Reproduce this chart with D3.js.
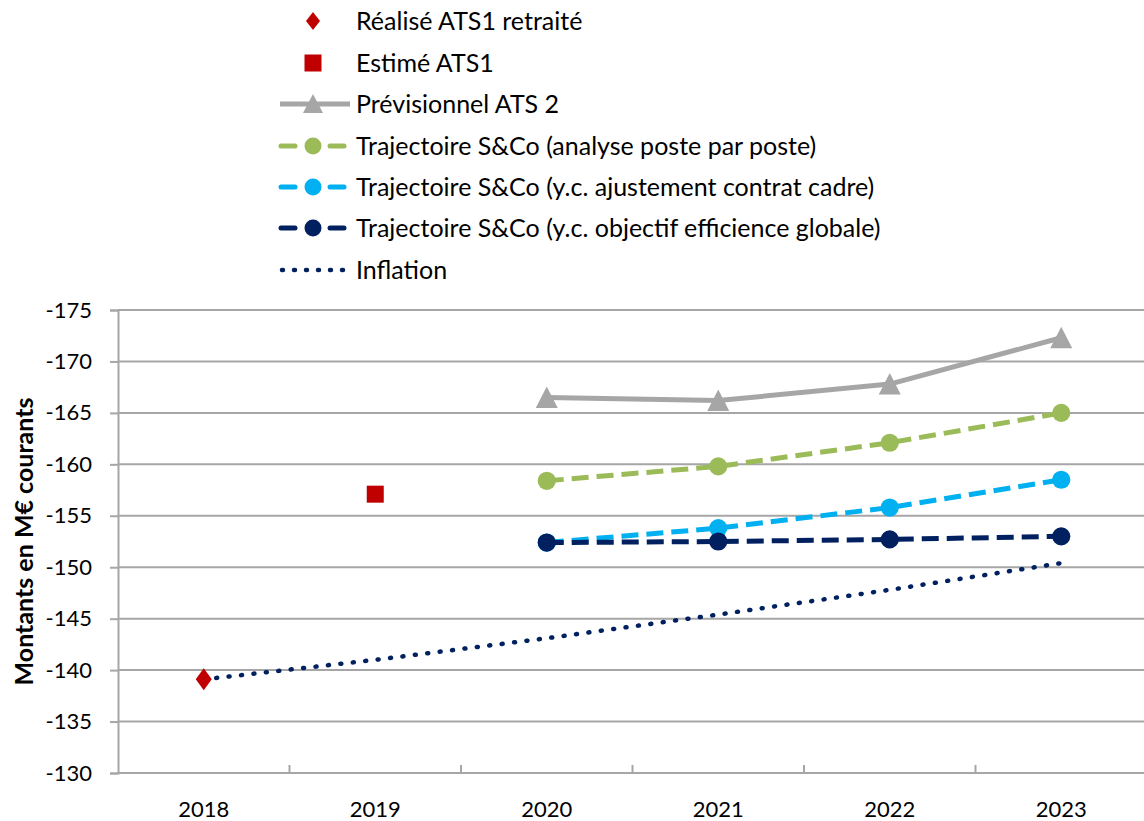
<!DOCTYPE html>
<html><head><meta charset="utf-8">
<script src="https://cdn.jsdelivr.net/npm/d3@7"></script>
<style>body{margin:0;background:#fff;} svg{display:block;font-family:Lato,"Open Sans",sans-serif;}</style>
</head><body>
<svg id="chart" width="1144" height="821"></svg>
<script>
const years = ["2018","2019","2020","2021","2022","2023"];
const yTicks = [-175,-170,-165,-160,-155,-150,-145,-140,-135,-130];
const realise = [-139.1, null, null, null, null, null];
const estime = [null, -157.1, null, null, null, null];
const ats2 = [null, null, -166.5, -166.2, -167.8, -172.3];
const trajPoste = [null, null, -158.4, -159.8, -162.1, -165.0];
const trajCadre = [null, null, -152.4, -153.8, -155.8, -158.5];
const trajGlobale = [null, null, -152.4, -152.5, -152.7, -153.0];
const inflation = [-139.1, -141.0, -143.1, -145.4, -147.8, -150.4];
const legendLabels = ["Réalisé ATS1 retraité","Estimé ATS1","Prévisionnel ATS 2",
  "Trajectoire S&Co (analyse poste par poste)","Trajectoire S&Co (y.c. ajustement contrat cadre)",
  "Trajectoire S&Co (y.c. objectif efficience globale)","Inflation"];

const svg = d3.select("#chart");
const L = 118, R = 1147, T = 310, B = 773;
const x = d3.scaleBand().domain(years).range([L, R]).padding(0);
const y = d3.scaleLinear().domain([-130, -175]).range([B, T]);
const cx = d => x(d) + x.bandwidth()/2;
const gridCol = "#a6a6a6";

svg.append("g").selectAll("line").data(yTicks.filter(t => t !== -130)).join("line")
  .attr("x1", L).attr("x2", 1144).attr("y1", d => y(d)).attr("y2", d => y(d))
  .attr("stroke", gridCol).attr("stroke-width", 2);

const yAxis = svg.append("g").attr("transform", `translate(${L},0)`)
  .call(d3.axisLeft(y).tickValues(yTicks).tickSize(8).tickPadding(18).tickFormat(d => String(d)));
yAxis.select(".domain").attr("stroke", gridCol).attr("stroke-width", 2);
yAxis.selectAll(".tick line").attr("stroke", gridCol).attr("stroke-width", 2);
yAxis.selectAll("text").attr("font-size", 22).attr("fill", "#000").attr("font-family","Lato");

svg.append("line").attr("x1", L).attr("x2", 1144).attr("y1", B).attr("y2", B)
  .attr("stroke", gridCol).attr("stroke-width", 2);
svg.append("g").selectAll("line").data(years.slice(1)).join("line")
  .attr("x1", d => x(d)).attr("x2", d => x(d)).attr("y1", B).attr("y2", B - 8)
  .attr("stroke", gridCol).attr("stroke-width", 2);
svg.append("g").selectAll("text").data(years).join("text")
  .attr("x", d => cx(d)).attr("y", 817).attr("text-anchor", "middle")
  .attr("font-size", 22).attr("fill", "#000").text(d => d);

svg.append("text").attr("transform", `translate(33,${(T+B)/2}) rotate(-90)`)
  .attr("text-anchor", "middle").attr("font-size", 25).attr("font-weight", "bold")
  .text("Montants en M€ courants");

function series(vals, color, width, dash, cap) {
  const pts = years.map((yr, i) => ({yr, v: vals[i]})).filter(p => p.v !== null);
  const line = d3.line().x(p => cx(p.yr)).y(p => y(p.v));
  svg.append("path").attr("d", line(pts)).attr("fill", "none").attr("stroke", color)
    .attr("stroke-width", width).attr("stroke-dasharray", dash || null)
    .attr("stroke-linecap", cap || "butt").attr("stroke-linejoin", "round");
  return pts;
}
function markers(pts, type, color, size) {
  svg.append("g").selectAll("path").data(pts).join("path")
    .attr("transform", p => `translate(${cx(p.yr)},${y(p.v)})`)
    .attr("d", d3.symbol().type(type).size(size)).attr("fill", color);
}
const diamondTall = { draw(ctx) { const h = 11, w = 8; ctx.moveTo(0,-h); ctx.lineTo(w,0); ctx.lineTo(0,h); ctx.lineTo(-w,0); ctx.closePath(); } };
const tri = { draw(ctx) { ctx.moveTo(0,-11); ctx.lineTo(11,10.5); ctx.lineTo(-11,10.5); ctx.closePath(); } };

series(inflation, "#002060", 4.5, "1 11.5", "round");
const pA = series(ats2, "#a6a6a6", 5);
markers(pA, tri, "#a6a6a6", 1);
const pG = series(trajPoste, "#9bbb59", 5, "17 8");
markers(pG, d3.symbolCircle, "#9bbb59", 260);
const pC = series(trajCadre, "#00b0f0", 5, "17 8");
markers(pC, d3.symbolCircle, "#00b0f0", 260);
const pN = series(trajGlobale, "#002060", 5, "17 8");
markers(pN, d3.symbolCircle, "#002060", 260);
markers(years.map((yr,i)=>({yr,v:realise[i]})).filter(p=>p.v!==null), diamondTall, "#c00000", 1);
svg.append("g").selectAll("rect").data(years.map((yr,i)=>({yr,v:estime[i]})).filter(p=>p.v!==null)).join("rect")
  .attr("x", p => cx(p.yr) - 8.5).attr("y", p => y(p.v) - 8.5).attr("width", 17).attr("height", 17).attr("fill", "#c00000");

const legY = [21, 63, 104, 146, 187, 228, 270];
const lg = svg.append("g");
const mx = 313;
lg.append("path").attr("transform", `translate(${mx},${legY[0]})`).attr("d", "M0,-9L7,0L0,9L-7,0Z").attr("fill", "#c00000");
lg.append("rect").attr("x", mx-8.5).attr("y", legY[1]-8.5).attr("width", 17).attr("height", 17).attr("fill", "#c00000");
lg.append("line").attr("x1", 280).attr("x2", 350).attr("y1", legY[2]).attr("y2", legY[2]).attr("stroke", "#a6a6a6").attr("stroke-width", 5);
lg.append("path").attr("transform", `translate(${mx},${legY[2]})`).attr("d", "M0,-10L10,9L-10,9Z").attr("fill", "#a6a6a6");
[["#9bbb59",3],["#00b0f0",4],["#002060",5]].forEach(([c,i]) => {
  [[281,295],[330,344]].forEach(([a,b]) => lg.append("line").attr("x1", a).attr("x2", b)
    .attr("y1", legY[i]).attr("y2", legY[i]).attr("stroke", c).attr("stroke-width", 5).attr("stroke-linecap","round"));
  lg.append("circle").attr("cx", mx).attr("cy", legY[i]).attr("r", 8.5).attr("fill", c);
});
lg.append("line").attr("x1", 282).attr("x2", 346).attr("y1", legY[6]).attr("y2", legY[6])
  .attr("stroke", "#002060").attr("stroke-width", 4.5).attr("stroke-dasharray", "1 11").attr("stroke-linecap","round");
lg.selectAll("text").data(legendLabels).join("text")
  .attr("x", 356).attr("y", (d,i) => legY[i] + 8.5)
  .attr("font-size", 25).attr("fill", "#000").text(d => d);
</script>
</body></html>
